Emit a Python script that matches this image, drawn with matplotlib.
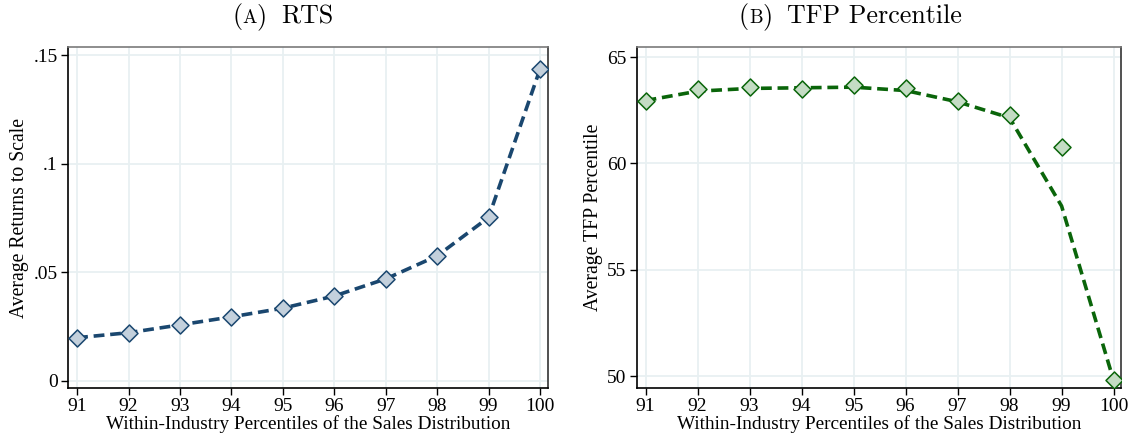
import numpy as np
import matplotlib
matplotlib.use('Agg')
import matplotlib.pyplot as plt
from matplotlib.offsetbox import TextArea, HPacker, AnnotationBbox

# percentiles of the within-industry sales distribution
pctiles = [91, 92, 93, 94, 95, 96, 97, 98, 99, 100]

# panel A: average returns to scale
rts = [0.0198, 0.0221, 0.0257, 0.0294, 0.0334, 0.0390, 0.0469, 0.0575, 0.0752, 0.1435]

# panel B: average TFP percentile (markers) and the dashed line
tfp_points = [62.96, 63.48, 63.59, 63.48, 63.68, 63.53, 62.93, 62.27, 60.77, 49.80]
tfp_line = [62.96, 63.40, 63.53, 63.56, 63.59, 63.43, 62.90, 62.15, 58.00, 49.80]

rts_ticks = [0, 0.05, 0.1, 0.15]
rts_ticklabels = ['0', '.05', '.1', '.15']
tfp_ticks = [50, 55, 60, 65]

plt.rcParams['font.family'] = ['Liberation Serif', 'DejaVu Serif']

grid_col = '#e8f0f2'
navy = '#1a476f'
navy_fill = '#c3d0dc'
green = '#0a650a'
green_fill = '#c4dcc4'

fig = plt.figure(figsize=(11.35, 4.45), dpi=100)
ax1 = fig.add_axes([0.060, 0.128, 0.423, 0.766])
ax2 = fig.add_axes([0.561, 0.128, 0.427, 0.766])


def style_axes(ax):
    ax.set_xlim(90.825, 100.16)
    ax.set_xticks(pctiles)
    ax.grid(True, color=grid_col, linewidth=1.3)
    ax.set_axisbelow(True)
    ax.tick_params(direction='out', length=5, width=1, labelsize=14, pad=2.5)
    ax.spines['left'].set_color('black')
    ax.spines['bottom'].set_color('black')
    ax.spines['top'].set_color('#7a7a7a')
    ax.spines['right'].set_color('#333333')
    for s in ax.spines.values():
        s.set_linewidth(1.2)
    ax.set_xlabel('Within-Industry Percentiles of the Sales Distribution',
                  fontsize=13.9, labelpad=0)


# panel A
ax1.plot(pctiles, rts, color=navy, linestyle=(0, (3, 1.6)), linewidth=2.6, zorder=2)
ax1.scatter(pctiles, rts, marker='D', s=75, facecolor=navy_fill,
            edgecolor=navy, linewidths=1.1, zorder=3)
style_axes(ax1)
ax1.set_ylim(-0.0034, 0.1537)
ax1.set_yticks(rts_ticks)
ax1.set_yticklabels(rts_ticklabels)
ax1.set_ylabel('Average Returns to Scale', fontsize=14.2, labelpad=3)

# panel B
ax2.plot(pctiles, tfp_line, color=green, linestyle=(0, (3, 1.6)), linewidth=2.6, zorder=2)
ax2.scatter(pctiles, tfp_points, marker='D', s=75, facecolor=green_fill,
            edgecolor=green, linewidths=1.1, zorder=3)
style_axes(ax2)
ax2.set_xlim(90.83, 100.15)
ax2.set_ylim(49.44, 65.47)
ax2.set_yticks(tfp_ticks)
ax2.set_ylabel('Average TFP Percentile', fontsize=14.2, labelpad=3)


def smallcaps_title(letter, rest, xfrac):
    tp = dict(fontsize=18.7, family='cmr10')
    parts = [TextArea('(', textprops=tp),
             TextArea(letter, textprops=dict(fontsize=13.8, family='cmr10')),
             TextArea(')', textprops=tp),
             TextArea(rest, textprops=tp)]
    box = HPacker(children=parts[:3], align='baseline', pad=0, sep=0)
    box = HPacker(children=[box, parts[3]], align='baseline', pad=0, sep=10)
    ab = AnnotationBbox(box, (xfrac, 0.962), xycoords='figure fraction',
                        frameon=False, box_alignment=(0.5, 0.5))
    fig.add_artist(ab)


smallcaps_title('A', 'RTS', 0.249)
smallcaps_title('B', 'TFP Percentile', 0.749)

fig.savefig('out.png', dpi=100, facecolor='white')
